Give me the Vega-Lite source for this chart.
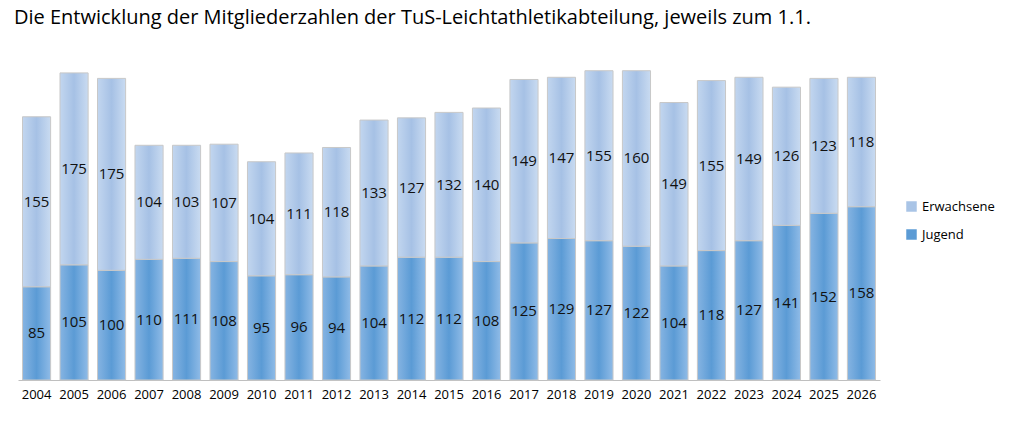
{
  "$schema": "https://vega.github.io/schema/vega-lite/v6.json",
  "autosize": "none",
  "width": 862,
  "height": 340,
  "padding": {"left": 18, "top": 40, "right": 144, "bottom": 45},
  "background": "white",
  "config": {"view": {"stroke": null}, "font": "Open Sans"},
  "title": {"text": "Die Entwicklung der Mitgliederzahlen der TuS-Leichtathletikabteilung, jeweils zum 1.1.", "anchor": "start", "fontSize": 20, "fontWeight": "normal", "color": "#000", "dx": -4, "offset": 12, "font": "Open Sans"},
  "data": {"values": [
    {"year":"2004","J":85,"E":155},{"year":"2005","J":105,"E":175},{"year":"2006","J":100,"E":175},
    {"year":"2007","J":110,"E":104},{"year":"2008","J":111,"E":103},{"year":"2009","J":108,"E":107},
    {"year":"2010","J":95,"E":104},{"year":"2011","J":96,"E":111},{"year":"2012","J":94,"E":118},
    {"year":"2013","J":104,"E":133},{"year":"2014","J":112,"E":127},{"year":"2015","J":112,"E":132},
    {"year":"2016","J":108,"E":140},{"year":"2017","J":125,"E":149},{"year":"2018","J":129,"E":147},
    {"year":"2019","J":127,"E":155},{"year":"2020","J":122,"E":160},{"year":"2021","J":104,"E":149},
    {"year":"2022","J":118,"E":155},{"year":"2023","J":127,"E":149},{"year":"2024","J":141,"E":126},
    {"year":"2025","J":152,"E":123},{"year":"2026","J":158,"E":118}
  ]},
  "transform": [
    {"fold": ["J", "E"], "as": ["k", "value"]},
    {"calculate": "datum.k == 'J' ? 'Jugend' : 'Erwachsene'", "as": "group"},
    {"calculate": "datum.k == 'J' ? 0 : 1", "as": "ord"},
    {"stack": "value", "groupby": ["year"], "sort": [{"field": "ord", "order": "ascending"}], "as": ["y0", "y1"]},
    {"calculate": "(datum.y0 + datum.y1) / 2", "as": "mid"}
  ],
  "encoding": {
    "x": {"field": "year", "type": "ordinal", "title": null,
      "scale": {"paddingInner": 0.25, "paddingOuter": 0.12},
      "axis": {"labelAngle": 0, "labelFontSize": 13, "labelColor": "#000", "ticks": false, "domainColor": "#bfbfbf", "labelPadding": 8}}
  },
  "layer": [
    {
      "mark": {"type": "bar", "stroke": "#c8c8c8", "strokeWidth": 1},
      "encoding": {
        "y": {"field": "y0", "type": "quantitative", "scale": {"domain": [0, 310], "nice": false, "zero": true}, "axis": null},
        "y2": {"field": "y1"},
        "fill": {
          "condition": {"test": "datum.group == 'Jugend'", "value": {"gradient": "linear", "x1": 0, "x2": 1, "y1": 0, "y2": 0, "stops": [{"offset": 0, "color": "#86b4e2"}, {"offset": 0.5, "color": "#5b9bd5"}, {"offset": 1, "color": "#8fbbe7"}]}},
          "value": {"gradient": "linear", "x1": 0, "x2": 1, "y1": 0, "y2": 0, "stops": [{"offset": 0, "color": "#c2d6ef"}, {"offset": 0.5, "color": "#a6c1e5"}, {"offset": 1, "color": "#c9dbf1"}]}
        }
      }
    },
    {
      "mark": {"type": "square", "opacity": 0, "size": 1},
      "encoding": {
        "y": {"field": "mid", "type": "quantitative"},
        "color": {"field": "group", "type": "nominal",
          "scale": {"domain": ["Erwachsene", "Jugend"], "range": ["#a9c4e6", "#5b9bd5"]},
          "legend": {"title": null, "orient": "none", "legendX": 887, "legendY": 160, "symbolType": "square", "symbolSize": 110, "symbolOpacity": 1, "symbolStrokeWidth": 0, "labelFontSize": 13, "rowPadding": 14, "labelColor": "#000"}}
      }
    },
    {
      "mark": {"type": "text", "fontSize": 15, "color": "#111", "baseline": "middle"},
      "encoding": {
        "y": {"field": "mid", "type": "quantitative"},
        "text": {"field": "value", "type": "quantitative"}
      }
    }
  ]
}
